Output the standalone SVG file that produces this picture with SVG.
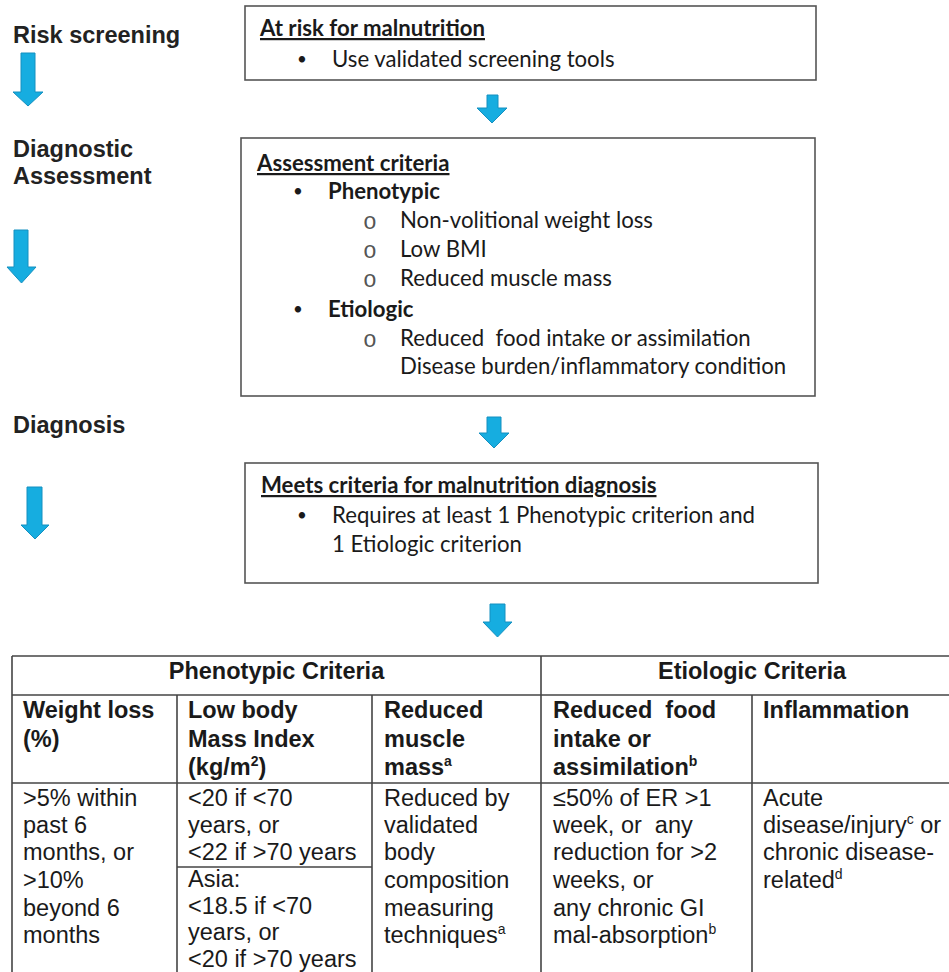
<svg xmlns="http://www.w3.org/2000/svg" width="949" height="972" viewBox="0 0 949 972">
<style>
  .bg { fill: #ffffff; }
  .box { fill: #ffffff; stroke: #555555; stroke-width: 1.6; }
  .stage { font-family: "Liberation Sans", Arial, sans-serif; font-weight: bold; font-size: 23.5px; fill: #222222; }
  .bt { font-family: Lato, "Open Sans", sans-serif; font-size: 22.2px; fill: #1a1a1a; }
  .bb { font-weight: bold; }
  .ul { text-decoration: underline; }
  .circ { font-family: "Liberation Mono", "Courier New", monospace; font-size: 23px; fill: #555555; text-anchor: middle; }
  .dot { font-family: Lato, "Open Sans", sans-serif; font-size: 17px; fill: #1a1a1a; text-anchor: middle; }
  .tt { font-family: "Liberation Sans", Arial, sans-serif; font-size: 23.5px; fill: #1a1a1a; }
  .th { font-weight: bold; }
  .sup { font-size: 14px; }
  .grid { stroke: #444444; stroke-width: 1.6; fill: none; }
  .arrow { fill: #16ade0; stroke: #1590c0; stroke-width: 1; stroke-linejoin: miter; }
</style>
<rect class="bg" x="0" y="0" width="949" height="972"/>

<g id="stage-risk-screening">
  <text class="stage" x="13" y="43">Risk screening</text>
</g>
<g id="stage-diagnostic-assessment">
  <text class="stage" x="13" y="157">Diagnostic</text>
  <text class="stage" x="13" y="184">Assessment</text>
</g>
<g id="stage-diagnosis">
  <text class="stage" x="13" y="433">Diagnosis</text>
</g>

<g id="box-at-risk">
  <rect class="box" x="245" y="6" width="571" height="74"/>
  <text class="bt bb ul" x="260" y="36">At risk for malnutrition</text>
  <text class="dot" x="302" y="65">•</text>
  <text class="bt" x="332" y="67">Use validated screening tools</text>
</g>

<g id="box-assessment">
  <rect class="box" x="241" y="138" width="574" height="258"/>
  <text class="bt bb ul" x="257" y="171">Assessment criteria</text>
  <text class="dot" x="298" y="197">•</text>
  <text class="bt bb" x="328" y="199">Phenotypic</text>
  <text class="circ" x="370" y="229">o</text>
  <text class="bt" x="400" y="228">Non-volitional weight loss</text>
  <text class="circ" x="370" y="258">o</text>
  <text class="bt" x="400" y="257">Low BMI</text>
  <text class="circ" x="370" y="287">o</text>
  <text class="bt" x="400" y="286">Reduced muscle mass</text>
  <text class="dot" x="298" y="315">•</text>
  <text class="bt bb" x="328" y="317">Etiologic</text>
  <text class="circ" x="370" y="347">o</text>
  <text class="bt" x="400" y="346" xml:space="preserve">Reduced  food intake or assimilation</text>
  <text class="bt" x="400" y="374">Disease burden/inflammatory condition</text>
</g>

<g id="box-diagnosis">
  <rect class="box" x="245" y="463" width="573" height="120"/>
  <text class="bt bb ul" x="261" y="493">Meets criteria for malnutrition diagnosis</text>
  <text class="dot" x="302" y="521">•</text>
  <text class="bt" x="332" y="523">Requires at least 1 Phenotypic criterion and</text>
  <text class="bt" x="332" y="552">1 Etiologic criterion</text>
</g>

<g id="connectors">
  <polygon class="arrow" points="21,53 35,53 35,92 43,92 28,106 13,92 21,92"/>
  <polygon class="arrow" points="14,230 28,230 28,267 36,267 21.5,283 7,267 14,267"/>
  <polygon class="arrow" points="27,487 42,487 42,525 49,525 35,539 21,525 27,525"/>
  <polygon class="arrow" points="487,95 498,95 498,108 507,108 492,123 477,108 487,108"/>
  <polygon class="arrow" points="487,417 501,417 501,433 509,433 494,448 479,433 487,433"/>
  <polygon class="arrow" points="490,604 505,604 505,622 512,622 497.5,637 483,622 490,622"/>
</g>

<g id="table-criteria">
  <line class="grid" x1="12" y1="656" x2="949" y2="656"/>
  <line class="grid" x1="12" y1="695" x2="949" y2="695"/>
  <line class="grid" x1="12" y1="783" x2="949" y2="783"/>
  <line class="grid" x1="12" y1="656" x2="12" y2="972"/>
  <line class="grid" x1="541" y1="656" x2="541" y2="972"/>
  <line class="grid" x1="177" y1="695" x2="177" y2="972"/>
  <line class="grid" x1="372" y1="695" x2="372" y2="972"/>
  <line class="grid" x1="752" y1="695" x2="752" y2="972"/>
  <line class="grid" x1="177" y1="867" x2="372" y2="867"/>

  <text class="tt th" x="276.5" y="679" text-anchor="middle">Phenotypic Criteria</text>
  <text class="tt th" x="752" y="679" text-anchor="middle">Etiologic Criteria</text>

  <text class="tt th" x="23" y="718">Weight loss</text>
  <text class="tt th" x="23" y="747">(%)</text>

  <text class="tt th" x="188" y="718">Low body</text>
  <text class="tt th" x="188" y="747">Mass Index</text>
  <text class="tt th" x="188" y="775">(kg/m<tspan class="sup" dy="-9">2</tspan><tspan dy="9">)</tspan></text>

  <text class="tt th" x="384" y="718">Reduced</text>
  <text class="tt th" x="384" y="747">muscle</text>
  <text class="tt th" x="384" y="775">mass<tspan class="sup" dy="-9">a</tspan></text>

  <text class="tt th" x="553" y="718" xml:space="preserve">Reduced  food</text>
  <text class="tt th" x="553" y="747">intake or</text>
  <text class="tt th" x="553" y="775">assimilation<tspan class="sup" dy="-9">b</tspan></text>

  <text class="tt th" x="763" y="718">Inflammation</text>

  <text class="tt" x="23" y="806">&gt;5% within</text>
  <text class="tt" x="23" y="833">past 6</text>
  <text class="tt" x="23" y="860">months, or</text>
  <text class="tt" x="23" y="888">&gt;10%</text>
  <text class="tt" x="23" y="916">beyond 6</text>
  <text class="tt" x="23" y="943">months</text>

  <text class="tt" x="188" y="806">&lt;20 if &lt;70</text>
  <text class="tt" x="188" y="833">years, or</text>
  <text class="tt" x="188" y="860">&lt;22 if &gt;70 years</text>
  <text class="tt" x="188" y="887">Asia:</text>
  <text class="tt" x="188" y="913.5">&lt;18.5 if &lt;70</text>
  <text class="tt" x="188" y="940">years, or</text>
  <text class="tt" x="188" y="966.5">&lt;20 if &gt;70 years</text>

  <text class="tt" x="384" y="806">Reduced by</text>
  <text class="tt" x="384" y="833">validated</text>
  <text class="tt" x="384" y="860">body</text>
  <text class="tt" x="384" y="888">composition</text>
  <text class="tt" x="384" y="916">measuring</text>
  <text class="tt" x="384" y="943">techniques<tspan class="sup" dy="-9">a</tspan></text>

  <text class="tt" x="553" y="806">≤50% of ER &gt;1</text>
  <text class="tt" x="553" y="833" xml:space="preserve">week, or  any</text>
  <text class="tt" x="553" y="860">reduction for &gt;2</text>
  <text class="tt" x="553" y="888">weeks, or</text>
  <text class="tt" x="553" y="916">any chronic GI</text>
  <text class="tt" x="553" y="943">mal-absorption<tspan class="sup" dy="-9">b</tspan></text>

  <text class="tt" x="763" y="806">Acute</text>
  <text class="tt" x="763" y="833">disease/injury<tspan class="sup" dy="-9">c</tspan><tspan dy="9"> or</tspan></text>
  <text class="tt" x="763" y="860">chronic disease-</text>
  <text class="tt" x="763" y="888">related<tspan class="sup" dy="-9">d</tspan></text>
</g>
</svg>
